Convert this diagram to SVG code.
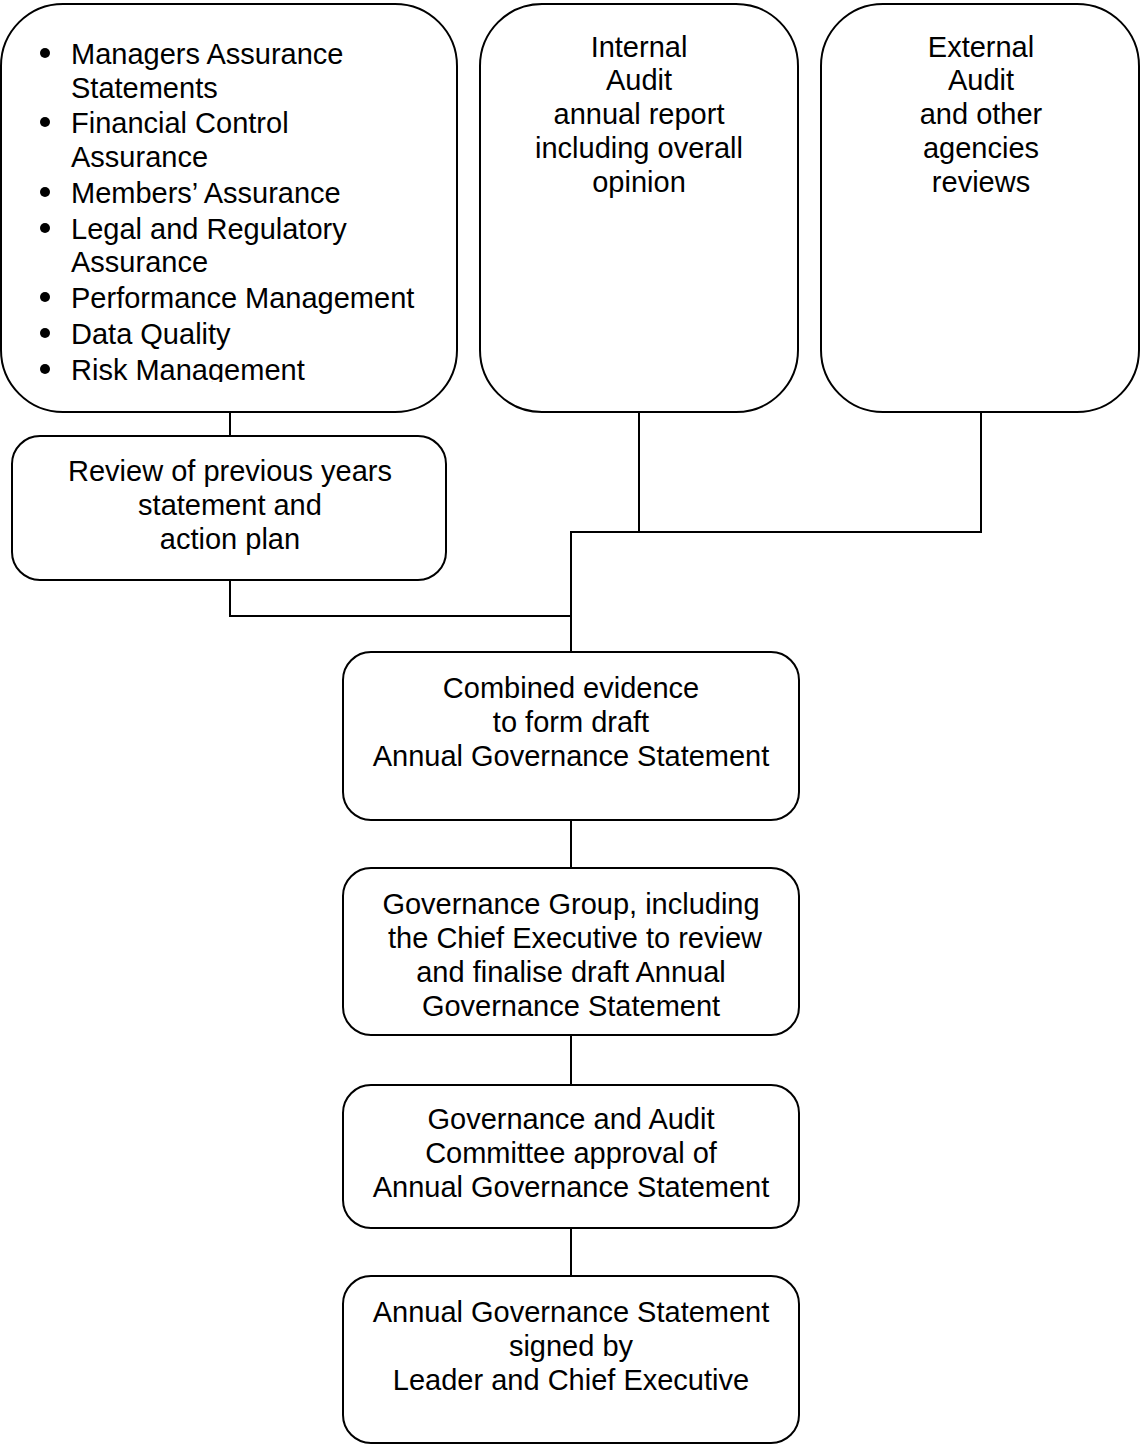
<svg xmlns="http://www.w3.org/2000/svg" width="1141" height="1445" viewBox="0 0 1141 1445">
<style>
.box{fill:#fff;stroke:#000;stroke-width:2}
.t{font-family:"Liberation Sans",Arial,sans-serif;font-size:29px;fill:#000}
.c{text-anchor:middle}
.conn{fill:none;stroke:#000;stroke-width:2}
</style>
<defs>
<clipPath id="clip1"><rect x="0" y="0" width="460" height="382"/></clipPath>
</defs>
<g id="connectors">
<path class="conn" d="M230 412 V436"/>
<path class="conn" d="M230 580 V616 H571"/>
<path class="conn" d="M639 412 V532"/>
<path class="conn" d="M981 412 V532 H571 V652"/>
<path class="conn" d="M571 820 V868"/>
<path class="conn" d="M571 1035 V1085"/>
<path class="conn" d="M571 1228 V1276"/>
</g>
<g id="assurance">
<rect class="box" x="1" y="4" width="456" height="408" rx="62" ry="62"/>
<g clip-path="url(#clip1)">
<g fill="#000">
<circle cx="45" cy="53" r="5"/>
<circle cx="45" cy="122" r="5"/>
<circle cx="45" cy="192" r="5"/>
<circle cx="45" cy="228" r="5"/>
<circle cx="45" cy="297" r="5"/>
<circle cx="45" cy="333" r="5"/>
<circle cx="45" cy="369" r="5"/>
</g>
<text class="t" x="71" y="64">Managers Assurance</text>
<text class="t" x="71" y="98">Statements</text>
<text class="t" x="71" y="133">Financial Control</text>
<text class="t" x="71" y="167">Assurance</text>
<text class="t" x="71" y="203">Members’ Assurance</text>
<text class="t" x="71" y="239">Legal and Regulatory</text>
<text class="t" x="71" y="272">Assurance</text>
<text class="t" x="71" y="308">Performance Management</text>
<text class="t" x="71" y="344">Data Quality</text>
<text class="t" x="71" y="380">Risk Management</text>
</g>
</g>
<g id="internal-audit">
<rect class="box" x="480" y="4" width="318" height="408" rx="62" ry="62"/>
<text class="t c" x="639" y="57">Internal</text>
<text class="t c" x="639" y="90">Audit</text>
<text class="t c" x="639" y="124">annual report</text>
<text class="t c" x="639" y="158">including overall</text>
<text class="t c" x="639" y="192">opinion</text>
</g>
<g id="external-audit">
<rect class="box" x="821" y="4" width="318" height="408" rx="62" ry="62"/>
<text class="t c" x="981" y="57">External</text>
<text class="t c" x="981" y="90">Audit</text>
<text class="t c" x="981" y="124">and other</text>
<text class="t c" x="981" y="158">agencies</text>
<text class="t c" x="981" y="192">reviews</text>
</g>
<g id="review">
<rect class="box" x="12" y="436" width="434" height="144" rx="28" ry="28"/>
<text class="t c" x="230" y="481">Review of previous years</text>
<text class="t c" x="230" y="515">statement and</text>
<text class="t c" x="230" y="549">action plan</text>
</g>
<g id="combined">
<rect class="box" x="343" y="652" width="456" height="168" rx="28" ry="28"/>
<text class="t c" x="571" y="698">Combined evidence</text>
<text class="t c" x="571" y="732">to form draft</text>
<text class="t c" x="571" y="766">Annual Governance Statement</text>
</g>
<g id="governance-group">
<rect class="box" x="343" y="868" width="456" height="167" rx="28" ry="28"/>
<text class="t c" x="571" y="914">Governance Group, including</text>
<text class="t c" x="575" y="948">the Chief Executive to review</text>
<text class="t c" x="571" y="982">and finalise draft Annual</text>
<text class="t c" x="571" y="1016">Governance Statement</text>
</g>
<g id="committee">
<rect class="box" x="343" y="1085" width="456" height="143" rx="28" ry="28"/>
<text class="t c" x="571" y="1129">Governance and Audit</text>
<text class="t c" x="571" y="1163">Committee approval of</text>
<text class="t c" x="571" y="1197">Annual Governance Statement</text>
</g>
<g id="signed">
<rect class="box" x="343" y="1276" width="456" height="167" rx="28" ry="28"/>
<text class="t c" x="571" y="1322">Annual Governance Statement</text>
<text class="t c" x="571" y="1356">signed by</text>
<text class="t c" x="571" y="1390">Leader and Chief Executive</text>
</g>
</svg>
